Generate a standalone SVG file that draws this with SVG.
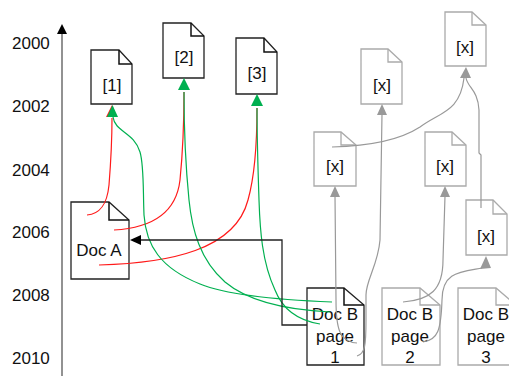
<svg xmlns="http://www.w3.org/2000/svg" width="509" height="376" viewBox="0 0 509 376">
  <defs>
    <marker id="ahGreen" viewBox="0 0 12 12" refX="12" refY="6" markerWidth="12" markerHeight="12" markerUnits="userSpaceOnUse" orient="auto">
      <path d="M0,0 L12,6 L0,12 Z" fill="#00b050"/>
    </marker>
    <marker id="ahGrey" viewBox="0 0 12 12" refX="12" refY="6" markerWidth="11" markerHeight="11" markerUnits="userSpaceOnUse" orient="auto">
      <path d="M0,0 L12,6 L0,12 Z" fill="#999"/>
    </marker>
    <marker id="ahBlack" viewBox="0 0 12 12" refX="12" refY="6" markerWidth="11" markerHeight="11" markerUnits="userSpaceOnUse" orient="auto">
      <path d="M0,0 L12,6 L0,12 Z" fill="#000"/>
    </marker>
  </defs>
  <style>
    text { font-family: "Liberation Sans", Arial, sans-serif; font-size: 17px; fill: #111; text-anchor: middle; }
    .year { text-anchor: start; }
    .doc { fill: #fff; stroke: #222; stroke-width: 1.3; }
    .doc-grey { fill: #fff; stroke: #aaa; stroke-width: 1.3; }
    .fold { fill: none; stroke: #111; stroke-width: 1.5; }
    .fold-grey { fill: none; stroke: #aaa; stroke-width: 1.3; }
    .red { fill: none; stroke: #ff1a1a; stroke-width: 1.2; }
    .green { fill: none; stroke: #00b050; stroke-width: 1.2; }
    .grey { fill: none; stroke: #999; stroke-width: 1.2; }
  </style>

  <rect width="509" height="376" fill="#fff"/>

  <!-- time axis -->
  <g id="axis">
    <line x1="62" y1="32" x2="62" y2="376" stroke="#777" stroke-width="1.6"/>
    <path d="M57,34 L62,24 L67,34 Z" fill="#000"/>
    <text class="year" x="12" y="49">2000</text>
    <text class="year" x="12" y="112">2002</text>
    <text class="year" x="12" y="176">2004</text>
    <text class="year" x="12" y="238">2006</text>
    <text class="year" x="12" y="301">2008</text>
    <text class="year" x="12" y="364">2010</text>
  </g>

  <!-- cited documents -->
  <g id="doc1">
    <path class="doc" d="M91,50 H119 L132,64 V104 H91 Z"/>
    <path class="fold" d="M119,50 V64 H132"/>
    <text x="112" y="91">[1]</text>
  </g>
  <g id="doc2">
    <path class="doc" d="M163,23 H191 L204,36 V78 H163 Z"/>
    <path class="fold" d="M191,23 V36 H204"/>
    <text x="184" y="63">[2]</text>
  </g>
  <g id="doc3">
    <path class="doc" d="M236,38 H264 L277,52 V94 H236 Z"/>
    <path class="fold" d="M264,38 V52 H277"/>
    <text x="257" y="79">[3]</text>
  </g>

  <g id="docA">
    <path class="doc" d="M71,202 H109 L129,220 V279 H71 Z"/>
    <path class="fold" d="M109,202 V220 H129"/>
    <text x="99" y="256">Doc A</text>
  </g>

  <g id="docB1">
    <path class="doc" d="M307,288 H344 L364,305 V365 H307 Z"/>
    <path class="fold" d="M344,288 V305 H364"/>
    <text x="335" y="320">Doc B</text>
    <text x="335" y="342">page</text>
    <text x="335" y="363">1</text>
  </g>
  <g id="docB2">
    <path class="doc-grey" d="M382,288 H420 L440,305 V365 H382 Z"/>
    <path class="fold-grey" d="M420,288 V305 H440"/>
    <text x="410" y="320">Doc B</text>
    <text x="410" y="342">page</text>
    <text x="410" y="363">2</text>
  </g>
  <g id="docB3">
    <path class="doc-grey" d="M458,288 H496 L516,305 V365 H458 Z"/>
    <path class="fold-grey" d="M496,288 V305 H516"/>
    <text x="486" y="320">Doc B</text>
    <text x="486" y="342">page</text>
    <text x="486" y="363">3</text>
  </g>

  <!-- further references -->
  <g id="refTop">
    <path class="doc-grey" d="M445,12 H472 L486,25 V66 H445 Z"/>
    <path class="fold-grey" d="M472,12 V25 H486"/>
    <text x="465" y="53">[x]</text>
  </g>
  <g id="refMid">
    <path class="doc-grey" d="M361,49 H388 L402,62 V104 H361 Z"/>
    <path class="fold-grey" d="M388,49 V62 H402"/>
    <text x="382" y="91">[x]</text>
  </g>
  <g id="refLowLeft">
    <path class="doc-grey" d="M314,132 H341 L356,145 V186 H314 Z"/>
    <path class="fold-grey" d="M341,132 V145 H356"/>
    <text x="335" y="172">[x]</text>
  </g>
  <g id="refLowMid">
    <path class="doc-grey" d="M425,132 H452 L466,145 V186 H425 Z"/>
    <path class="fold-grey" d="M452,132 V145 H466"/>
    <text x="445" y="172">[x]</text>
  </g>
  <g id="refRight">
    <path class="doc-grey" d="M466,200 H493 L507,214 V255 H466 Z"/>
    <path class="fold-grey" d="M493,200 V214 H507"/>
    <text x="486" y="242">[x]</text>
  </g>

  <g id="connectors">
    <!-- Doc A citations -->
    <path class="red" d="M87,215 C100,214 107,205 109,185 C111,160 112,140 112,118"/>
    <path class="red" d="M114,230 C150,228 176,215 180,180 C183,150 184,120 184,92"/>
    <path class="red" d="M99,265 C170,263 235,250 248,200 C255,175 257,140 257,108"/>
    <path d="M106,117 L112,105 L117,117 Z" fill="#ff1a1a"/>

    <!-- Doc B page 1 citations -->
    <path class="green" d="M332,302 C280,300 230,296 200,284 C160,268 146,245 144,215 C143,190 144,165 140,152 C134,132 115,132 113,117" />
    <path class="green" d="M330,312 C290,310 250,303 225,282 C200,260 192,230 189,200 C186,170 184,130 184,92"/>
    <path class="green" d="M320,324 C295,320 282,308 275,290 C262,262 260,230 259,200 C258,170 257,140 257,108"/>
    <path d="M107,117 L112.5,105 L118,117 Z" fill="#00b050"/>
    <path d="M178,90 L184,78 L190,90 Z" fill="#00b050"/>
    <path d="M251,106 L257,94 L263,106 Z" fill="#00b050"/>

    <!-- reference chain -->
    <path class="grey" d="M357,343 C340,342 336,330 336,300 L335,196"/>
    <path d="M330,197 L335,186 L340,197 Z" fill="#999"/>
    <path class="grey" d="M357,356 C365,354 366,345 366,320 L366,295 C366,280 378,265 380,240 L382,114"/>
    <path d="M377,115 L382,104 L387,115 Z" fill="#999"/>
    <path class="grey" d="M403,302 C430,300 443,290 443,260 L445,196"/>
    <path d="M440,197 L445,186 L450,197 Z" fill="#999"/>
    <path class="grey" d="M423,342 C438,340 441,330 442,300 C442,272 460,272 482,268"/>
    <path d="M480,269 L486,256 L491,268 Z" fill="#999"/>
    <path class="grey" d="M332,147 C370,146 400,140 420,127 C440,112 460,112 464,78"/>
    <path class="grey" d="M466,78 C468,88 478,90 479,110 L479,153 L481,155 L481,208"/>
    <path d="M460,78 L466,67 L471,78 Z" fill="#999"/>

    <!-- Doc B page 1 to Doc A -->
    <path d="M307,325 H282 V240 H140" fill="none" stroke="#222" stroke-width="1.3"/>
    <path d="M141,235 L130,240 L141,245 Z" fill="#000"/>
  </g>
</svg>
